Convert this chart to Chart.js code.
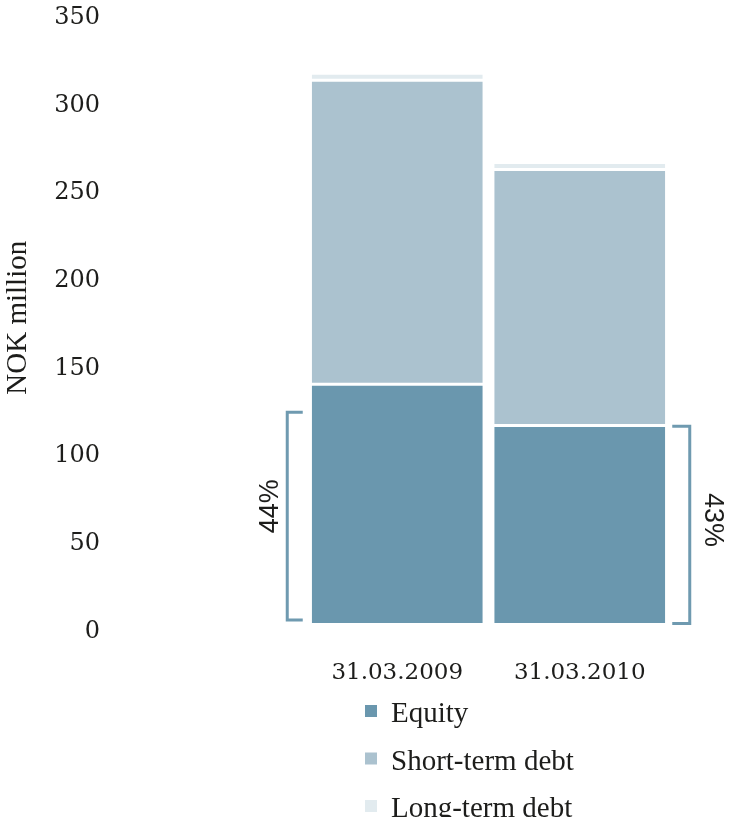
<!DOCTYPE html>
<html>
<head>
<meta charset="utf-8">
<title>Capital structure</title>
<script src="https://cdn.jsdelivr.net/npm/chart.js@4.4.0/dist/chart.umd.min.js"></script>
<style>
  html, body { margin: 0; padding: 0; background: #fff; }
  #wrap { width: 731px; height: 817px; }
</style>
</head>
<body>
<div id="wrap"><canvas id="capChart" width="731" height="817"></canvas></div>
<script>
// Balance sheet split, NOK million
const dates = ['31.03.2009', '31.03.2010'];
const equity = [137, 113.5];
const shortTermDebt = [173.5, 146];
const longTermDebt = [4, 4];
const yTicks = [0, 50, 100, 150, 200, 250, 300, 350];

const textColor = '#1d1d1b';
const bracketColor = '#6f9ab0';

// Square brackets next to the equity part of each bar, with the equity share
const equityBrackets = {
    id: 'equityBrackets',
    afterDatasetsDraw(chart, args, opts) {
        const ctx = chart.ctx;
        const yScale = chart.scales.y;
        const bars = chart.getDatasetMeta(0).data;
        ctx.save();
        ctx.strokeStyle = bracketColor;
        ctx.lineWidth = 3;
        ctx.fillStyle = textColor;
        ctx.font = '27px "Liberation Sans", Arial, sans-serif';
        ctx.textAlign = 'center';
        ctx.textBaseline = 'middle';
        bars.forEach((bar, i) => {
            const total = equity[i] + shortTermDebt[i] + longTermDebt[i];
            const share = Math.round(equity[i] / total * 100) + '%';
            const top = yScale.getPixelForValue(opts.spans[i][1]);
            const bottom = yScale.getPixelForValue(opts.spans[i][0]);
            const left = bar.x - bar.width / 2;
            const right = bar.x + bar.width / 2;
            let lineX, tickX, textX, angle;
            if (i === 0) {
                lineX = left - 24.5; tickX = left - 9; textX = lineX - 16.5; angle = -Math.PI / 2;
            } else {
                lineX = right + 24.5; tickX = right + 7; textX = lineX + 22.5; angle = Math.PI / 2;
            }
            ctx.beginPath();
            ctx.moveTo(tickX, top);
            ctx.lineTo(lineX, top);
            ctx.lineTo(lineX, bottom);
            ctx.lineTo(tickX, bottom);
            ctx.stroke();

            const textY = i === 0 ? (top + bottom) / 2 - 10 : (top + bottom) / 2 - 5;
            ctx.save();
            ctx.translate(textX, textY);
            ctx.rotate(angle);
            ctx.fillText(share, 0, 0);
            ctx.restore();
        });
        ctx.restore();
    }
};

// Legend stacked in one column under the dates
const columnLegend = {
    id: 'columnLegend',
    afterDraw(chart, args, opts) {
        const ctx = chart.ctx;
        ctx.save();
        ctx.font = '29px "Liberation Serif", "Times New Roman", serif';
        ctx.textAlign = 'left';
        ctx.textBaseline = 'alphabetic';
        chart.data.datasets.forEach((ds, i) => {
            const baseY = opts.top + i * opts.spacing;
            ctx.fillStyle = ds.backgroundColor;
            ctx.fillRect(opts.left, baseY - 17, 12, 12);
            ctx.fillStyle = textColor;
            ctx.fillText(ds.label, opts.left + 26, baseY);
        });
        ctx.restore();
    }
};

const barStyle = {
    borderColor: '#ffffff',
    borderWidth: { top: 1.5, bottom: 1.5, left: 0, right: 0 },
    borderSkipped: false,
    barPercentage: 0.937,
    categoryPercentage: 1
};

const ctx = document.getElementById('capChart').getContext('2d');
const capChart = new Chart(ctx, {
    type: 'bar',
    data: {
        labels: dates,
        datasets: [
            { label: 'Equity', data: equity, backgroundColor: '#6a97ae', ...barStyle },
            { label: 'Short-term debt', data: shortTermDebt, backgroundColor: '#abc2cf', ...barStyle },
            { label: 'Long-term debt', data: longTermDebt, backgroundColor: '#e2ebef', ...barStyle }
        ]
    },
    options: {
        responsive: false,
        animation: false,
        devicePixelRatio: 1,
        layout: { padding: { left: 0, top: 11, right: 60, bottom: 95 } },
        scales: {
            x: {
                stacked: true,
                offset: true,
                grid: { display: false, drawTicks: false },
                border: { display: false },
                ticks: {
                    padding: 35,
                    maxRotation: 0,
                    color: textColor,
                    font: { family: 'DejaVu Serif', size: 23 }
                }
            },
            y: {
                stacked: true,
                min: 0,
                max: 350,
                afterBuildTicks(scale) {
                    scale.ticks = yTicks.map(v => ({ value: v }));
                },
                afterFit(scale) {
                    // wide axis box so the bars start well right of the labels
                    scale.width = 306;
                    scale.paddingTop = 0;
                    scale.paddingBottom = 0;
                },
                grid: { display: false, drawTicks: false },
                border: { display: false },
                ticks: {
                    padding: 206,
                    labelOffset: 7,
                    color: textColor,
                    font: { family: 'DejaVu Serif', size: 24 }
                },
                title: {
                    display: true,
                    text: 'NOK million',
                    color: textColor,
                    font: { family: 'Liberation Serif', size: 29 },
                    padding: { top: 1, bottom: 0 }
                }
            }
        },
        plugins: {
            legend: { display: false },
            tooltip: { enabled: false },
            equityBrackets: { spans: [[2.5, 121], [0.5, 113]] },
            columnLegend: { left: 365, top: 722, spacing: 47.5 }
        }
    },
    plugins: [equityBrackets, columnLegend]
});
</script>
</body>
</html>
